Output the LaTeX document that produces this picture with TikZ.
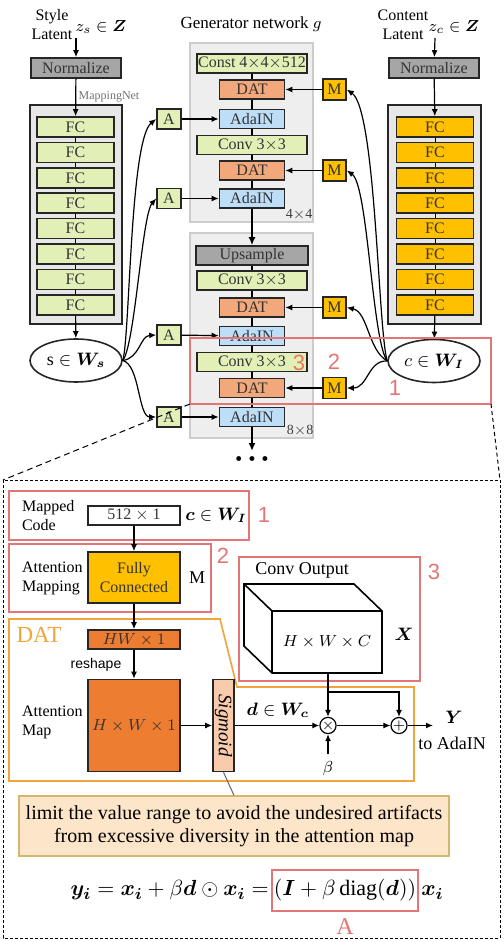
\documentclass[tikz,border=0pt]{standalone}
\usepackage{amsmath,bm}
\usepackage{fontspec}
\setmainfont{Liberation Serif}
\setsansfont{Liberation Sans}
\usetikzlibrary{shapes.geometric,arrows.meta,positioning}

\definecolor{fcgreen}{RGB}{226,240,184}
\definecolor{datorange}{RGB}{243,168,124}
\definecolor{adablue}{RGB}{189,222,246}
\definecolor{mgold}{RGB}{255,192,0}
\definecolor{normgray}{RGB}{166,166,166}
\definecolor{boxgray}{RGB}{231,231,231}
\definecolor{redline}{RGB}{226,118,118}
\definecolor{datframe}{RGB}{242,164,60}
\definecolor{mapfill}{RGB}{237,125,49}
\definecolor{sigfill}{RGB}{248,203,173}
\definecolor{notefill}{RGB}{252,229,200}
\definecolor{noteline}{RGB}{214,182,110}

\tikzset{
  blk/.style={draw=black!85, line width=0.8pt, inner sep=0pt, minimum height=9.5pt, text=black!80},
  fcbox/.style={blk, minimum width=38.5pt, minimum height=10pt},
  genwide/.style={blk, fill=fcgreen, minimum width=55pt},
  datbox/.style={blk, fill=datorange, minimum width=32.5pt},
  adabox/.style={blk, fill=adablue, minimum width=32.5pt},
  abox/.style={blk, fill=fcgreen, minimum width=12pt, minimum height=10pt},
  mbox/.style={blk, fill=mgold, minimum width=11.5pt, minimum height=10.5pt},
  normbox/.style={blk, fill=normgray, minimum width=45pt, minimum height=10pt},
  latent/.style={ellipse, draw=black!85, line width=0.8pt, minimum width=46pt, minimum height=21.5pt, inner sep=0pt, font=\fontsize{9}{10}\selectfont},
  genbg/.style={fill=gray!13, draw=gray!40, line width=0.6pt},
  arr/.style={-{Latex[length=3.5pt,width=3pt]}, line width=0.6pt},
  flow/.style={line width=1pt},
  redbox/.style={draw=redline, line width=0.6pt},
  rednum/.style={text=redline, font=\sffamily\fontsize{11}{12}\selectfont},
  opcirc/.style={circle, draw, line width=0.6pt, minimum size=7.5pt, inner sep=0pt, font=\fontsize{7}{7}\selectfont},
}

\begin{document}
\begin{tikzpicture}[x=0.5pt,y=-0.5pt,font=\fontsize{8}{9.5}\selectfont]
\useasboundingbox (0,0) rectangle (503,941);

% style mapping network
\node[align=center] (stylelbl) at (52,25) {Style\\Latent};
\node (zs) at (101,27) {$z_s\in\bm{Z}$};
\coordinate (zsin) at (76,38);
\node[normbox] (norms) at (76,68) {Normalize};
\draw[arr] (zsin) -- (norms);
\draw[draw=black!85, fill=boxgray, line width=0.8pt] (30,105) rectangle (122,324);
\node[text=black!55, font=\fontsize{6}{7}\selectfont] at (109,97) {MappingNet};
\foreach \i in {1,...,8}
  \node[fcbox, fill=fcgreen] (fs\i) at (75.5,{101.6+25.4*\i}) {FC};
\foreach \i [evaluate=\i as \j using int(\i+1)] in {1,...,7}
  \draw[line width=0.5pt] (fs\i) -- (fs\j);
\draw[arr] (norms) -- (fs1);
\node[latent] (s) at (76,360.5) {$\mathrm{s}\in\bm{W_s}$};
\draw[arr] (fs8) -- (s);

% content mapping network
\node[align=center] (contlbl) at (403,25) {Content\\Latent};
\node (zc) at (454,27) {$z_c\in\bm{Z}$};
\coordinate (zcin) at (435,38);
\node[normbox] (normc) at (434,68) {Normalize};
\draw[arr] (zcin) -- (normc);
\draw[draw=black!85, fill=boxgray, line width=0.8pt] (388,105) rectangle (481,324);
\foreach \i in {1,...,8}
  \node[fcbox, fill=mgold] (fc\i) at (435,{101.6+25.4*\i}) {FC};
\foreach \i [evaluate=\i as \j using int(\i+1)] in {1,...,7}
  \draw[line width=0.5pt] (fc\i) -- (fc\j);
\draw[arr] (normc) -- (fc1);
\node[latent] (c) at (434,361) {$c\in\bm{W_I}$};
\draw[arr] (fc8) -- (c);

% generator network
\node[font=\fontsize{8.5}{10}\selectfont] at (251,24) {Generator network $g$};
\draw[genbg] (190,43) rectangle (313,222);
\draw[genbg] (190,233) rectangle (313,438);
\node[text=black!75, font=\fontsize{7}{8}\selectfont] at (299,215) {4$\times$4};
\node[text=black!75, font=\fontsize{7}{8}\selectfont] at (300,431) {8$\times$8};

\node[genwide] (const) at (252,63.5) {Const 4$\times$4$\times$512};
\node[datbox] (dat1) at (252,89.5) {DAT};
\node[adabox] (ada1) at (252,119) {AdaIN};
\node[genwide] (conv1) at (252,145) {Conv 3$\times$3};
\node[datbox] (dat2) at (252,170.5) {DAT};
\node[adabox] (ada2) at (252,198.5) {AdaIN};
\node[blk, fill=normgray, minimum width=56pt] (ups) at (252,255.5) {Upsample};
\node[genwide] (conv2) at (252,280.5) {Conv 3$\times$3};
\node[datbox] (dat3) at (252,307.5) {DAT};
\node[adabox] (ada3) at (252,336) {AdaIN};
\node[genwide] (conv3) at (252,362) {Conv 3$\times$3};
\node[datbox] (dat4) at (252,388) {DAT};
\node[adabox] (ada4) at (252,417) {AdaIN};

\draw[flow] (const) -- (dat1) -- (ada1) -- (conv1) -- (dat2) -- (ada2);
\draw[flow] (ups) -- (conv2) -- (dat3) -- (ada3) -- (conv3) -- (dat4) -- (ada4);
\draw[flow, -{Latex[length=4pt,width=3.5pt]}] (ada2) -- (ups);
\coordinate (genout) at (252,451);
\draw[flow, -{Latex[length=4pt,width=3.5pt]}] (ada4) -- (genout);
\node[font=\fontsize{5}{5}\selectfont] at (252,459) {$\bullet\,\bullet\,\bullet$};

% style inputs A
\node[abox] (A1) at (169,119) {A};
\node[abox] (A2) at (169,198.5) {A};
\node[abox] (A3) at (169,335) {A};
\node[abox] (A4) at (169,417) {A};
\draw[arr] (A1) -- (ada1);
\draw[arr] (A2) -- (ada2);
\draw[arr] (A3) -- (ada3);
\draw[arr] (A4) -- (ada4);
\draw[arr] (s.east) .. controls (130,335) and (130,140) .. (A1.west);
\draw[arr] (s.east) .. controls (135,345) and (142,215) .. (A2.west);
\draw[arr] (s.east) .. controls (140,358) and (140,336) .. (A3.west);
\draw[arr] (s.east) .. controls (140,365) and (138,417) .. (A4.west);

% content inputs M
\node[mbox] (M1) at (334.5,89.5) {M};
\node[mbox] (M2) at (334.5,170.5) {M};
\node[mbox] (M3) at (334.5,307.5) {M};
\node[mbox] (M4) at (334.5,388) {M};
\draw[arr] (M1) -- (dat1);
\draw[arr] (M2) -- (dat2);
\draw[arr] (M3) -- (dat3);
\draw[arr] (M4) -- (dat4);
\draw[arr] (c.west) .. controls (378,330) and (376,110) .. (M1.east);
\draw[arr] (c.west) .. controls (372,340) and (368,185) .. (M2.east);
\draw[arr] (c.west) .. controls (368,350) and (368,312) .. (M3.east);
\draw[arr] (c.west) .. controls (368,360) and (368,388) .. (M4.east);

% highlighted region
\draw[redbox] (190,338) rectangle (491,404);
\node[rednum, text=redline!80!orange] at (299,363) {3};
\node[rednum] at (334,362) {2};
\node[rednum] at (395,388) {1};
\coordinate (zl) at (190,404);
\coordinate (zr) at (491,404);
\coordinate (bl) at (3,480);
\coordinate (br) at (500,480);
\draw[dash pattern=on 3pt off 2pt, line width=0.5pt] (zl) -- (bl);
\draw[dash pattern=on 2pt off 1.5pt, line width=0.5pt] (zr) -- (br);
\draw[dash pattern=on 1.5pt off 1pt, line width=0.5pt] (3,480) rectangle (500,938);

% detail: mapped code
\draw[redbox] (9,491) rectangle (249,540);
\node[rednum] at (264,515) {1};
\node[align=left, anchor=west] (codelbl) at (15,515.5) {Mapped\\Code};
\node[blk, fill=white, minimum width=46pt] (code) at (134,515.5) {512 $\times$ 1};
\node[font=\fontsize{9}{10}\selectfont] at (216,515) {$\bm{c}\in\bm{W_I}$};

% detail: attention mapping
\draw[redbox] (9,544) rectangle (211,612);
\node[rednum] at (223,556) {2};
\node[align=left, anchor=west] (mapplbl) at (15,578) {Attention\\Mapping};
\node[blk, fill=mgold, minimum width=46pt, minimum height=25.5pt, align=center] (fcm) at (134,577.5) {Fully\\Connected};
\node[font=\fontsize{9}{10}\selectfont] at (197,578) {M};
\draw[arr] (code) -- (fcm);

% detail: DAT
\draw[datframe, line width=0.8pt] (9,619) -- (220,619) -- (237,687) -- (414,687) -- (414,781) -- (9,781) -- cycle;
\node[text=datframe, font=\fontsize{11.5}{12}\selectfont] at (39,635) {DAT};
\node[blk, fill=mapfill, minimum width=46pt] (hw) at (134,639.5) {$HW\times1$};
\draw[arr] (fcm) -- (hw);
\node[font=\sffamily\fontsize{7}{8}\selectfont] at (96,665) {reshape};
\node[blk, fill=mapfill, minimum width=46pt, minimum height=46pt] (amap) at (134,725.5) {$H\times W\times1$};
\draw[arr] (hw) -- (amap);
\node[align=left, anchor=west] (amaplbl) at (15,722) {Attention\\Map};
\node[blk, fill=sigfill, minimum width=10.5pt, minimum height=46pt] (sig) at (223.5,725.5) {};
\node[rotate=-90, font=\itshape\fontsize{9.5}{10}\selectfont] at (sig.center) {Sigmoid};
\draw[arr] (amap) -- (sig);
\node[opcirc] (mul) at (328,725.5) {$\times$};
\node[opcirc] (add) at (399,725.5) {$+$};
\draw[arr] (sig) -- (mul);
\node[font=\fontsize{9}{10}\selectfont] at (278,710) {$\bm{d}\in\bm{W_c}$};
\draw[arr] (mul) -- (add);
\coordinate (yout) at (433,725.5);
\draw[arr] (add) -- (yout);
\node[font=\fontsize{9}{10}\selectfont] at (454,717) {$\bm{Y}$};
\node[font=\fontsize{9}{10}\selectfont] at (452,743) {to AdaIN};
\node (beta) at (328,768) {$\beta$};
\draw[arr] (beta) -- (mul);

% detail: conv output
\draw[redbox] (239,557) rectangle (420,681);
\node[rednum] at (434,572) {3};
\node[font=\fontsize{9}{10}\selectfont] at (302,570) {Conv Output};
\draw[line width=0.8pt, fill=white] (244,584) -- (354,584) -- (382,611) -- (382,673) -- (272,673) -- (244,646) -- cycle;
\draw[line width=0.8pt] (244,584) -- (272,611) -- (382,611);
\draw[line width=0.8pt] (272,611) -- (272,673);
\node at (327,642) {$H\times W\times C$};
\node[font=\fontsize{9}{10}\selectfont] at (404,634) {$\bm{X}$};
\coordinate (cubebot) at (328,673);
\coordinate (split) at (328,692);
\draw[arr] (cubebot) -- (mul);
\draw[arr] (split) -| (add);

% note
\node[draw=noteline, fill=notefill, line width=0.6pt, minimum width=215pt, minimum height=30pt, align=center, inner sep=0pt, font=\fontsize{10}{11.5}\selectfont] (note) at (234,826) {limit the value range to avoid the undesired artifacts\\from excessive diversity in the attention map};
\draw[black!60, line width=0.5pt] (sig.south) -- (note.north);

% equation
\node[draw=redline, line width=0.8pt, inner xsep=1pt, minimum height=20.5pt, font=\fontsize{11}{13}\selectfont] (eqA) at (345,890.5) {$(\bm{I}+\beta\,\mathrm{diag}(\bm{d}))$};
\node[anchor=base east, inner xsep=1pt, font=\fontsize{11}{13}\selectfont] (eqL) at (eqA.base west) {$\bm{y_i}=\bm{x_i}+\beta\bm{d}\odot\bm{x_i}=$};
\node[anchor=base west, inner xsep=1pt, font=\fontsize{11}{13}\selectfont] (eqR) at (eqA.base east) {$\bm{x_i}$};
\node[text=redline, font=\fontsize{12}{12}\selectfont] at (345,927) {A};
\end{tikzpicture}
\end{document}
